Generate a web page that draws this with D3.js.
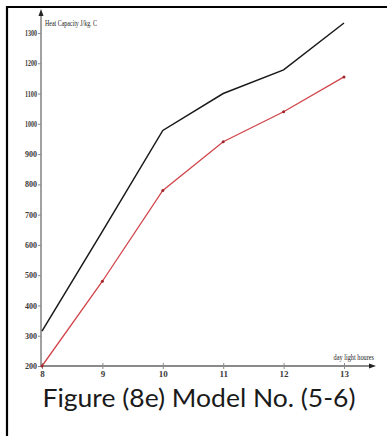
<!DOCTYPE html>
<html><head><meta charset="utf-8">
<script src="https://cdn.jsdelivr.net/npm/d3@7"></script>
<style>body{margin:0;background:#fff}svg{display:block}</style>
</head><body>
<svg id="c" width="387" height="436"></svg>
<script>
const hours = [8, 9, 10, 11, 12, 13];
const blackSeries = [315, 645, 978, 1100, 1178, 1333];
const redSeries = [200, 480, 780, 941, 1040, 1155];
const yTicks = [200, 300, 400, 500, 600, 700, 800, 900, 1000, 1100, 1200, 1300];
const yLabel = "Heat Capacity J/kg. C";
const xLabel = "day light houres";
const caption = "Figure (8e) Model No. (5-6)";

const svg = d3.select("#c");
// frame
svg.append("line").attr("x1",7).attr("x2",387).attr("y1",7).attr("y2",7).attr("stroke","#000").attr("stroke-width",2.2);
svg.append("line").attr("x1",7).attr("x2",7).attr("y1",6).attr("y2",436).attr("stroke","#000").attr("stroke-width",2.2);

const x = d3.scaleLinear().domain([8,13]).range([42,344]);
const y = d3.scaleLinear().domain([200,1300]).range([366,33]);
const axisCol = "#8a8a8a";

// y axis
const ya = svg.append("g").attr("transform","translate(41,0)")
  .call(d3.axisLeft(y).tickValues(yTicks).tickSize(3).tickPadding(1).tickFormat(d3.format("d")));
ya.select(".domain").remove();
ya.selectAll("line").attr("stroke",axisCol);
ya.selectAll("text").attr("font-family","Liberation Serif").attr("font-size",8).attr("font-weight","bold")
  .attr("fill","#3a3a3a").attr("textLength",12).attr("lengthAdjust","spacingAndGlyphs");
svg.append("line").attr("x1",41).attr("x2",41).attr("y1",366).attr("y2",13).attr("stroke",axisCol).attr("stroke-width",1.6);
svg.append("path").attr("d","M41,9 L38.5,16 L43.5,16 Z").attr("fill","#222");

// x axis
const xa = svg.append("g").attr("transform","translate(0,366)")
  .call(d3.axisBottom(x).tickValues(hours).tickSize(3).tickPadding(2).tickFormat(d3.format("d")));
xa.select(".domain").remove();
xa.selectAll("line").attr("stroke",axisCol).attr("y1",-3);
xa.selectAll("text").attr("font-family","Liberation Serif").attr("font-size",9).attr("font-weight","bold").attr("fill","#3a3a3a");
svg.append("line").attr("x1",41).attr("x2",372).attr("y1",366).attr("y2",366).attr("stroke",axisCol).attr("stroke-width",1.8);
svg.append("path").attr("d","M376,366 L369,363.5 L369,368.5 Z").attr("fill","#222");

// labels (condensed via horizontal scale)
svg.append("g").attr("transform","translate(45,26) scale(0.66,1)")
  .append("text").text(yLabel)
  .attr("font-family","Liberation Serif").attr("font-size",9).attr("fill","#222");
svg.append("g").attr("transform","translate(374,360) scale(0.7,1)")
  .append("text").attr("text-anchor","end").text(xLabel)
  .attr("font-family","Liberation Serif").attr("font-size",9).attr("fill","#222");

// lines
const line = d3.line().x((d,i)=>x(hours[i])).y(d=>y(d));
svg.append("path").datum(blackSeries).attr("d",line).attr("fill","none").attr("stroke","#1a1a1a").attr("stroke-width",1.5);
svg.append("path").datum(redSeries).attr("d",line).attr("fill","none").attr("stroke","#d2454a").attr("stroke-width",1.3);
svg.selectAll(".rm").data(redSeries).enter().append("circle")
  .attr("cx",(d,i)=>x(hours[i])).attr("cy",d=>y(d)).attr("r",1.5).attr("fill","#a0262b");

// caption
svg.append("text").attr("x",199).attr("y",407).attr("text-anchor","middle").text(caption)
  .attr("font-family","Lato").attr("font-size",25).attr("fill","#1a1a1a")
  .attr("textLength",313).attr("lengthAdjust","spacingAndGlyphs");
</script>
</body></html>
